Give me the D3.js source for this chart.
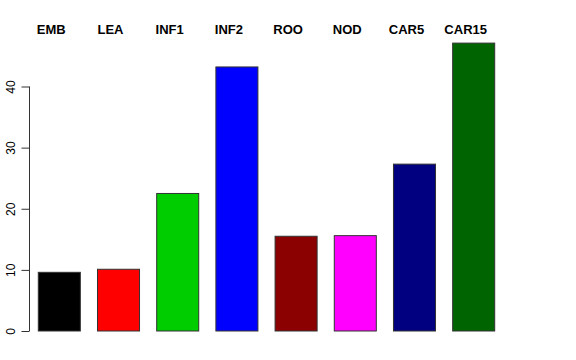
<!DOCTYPE html>
<html>
<head>
<meta charset="utf-8">
<script src="https://cdn.jsdelivr.net/npm/d3@7"></script>
<style>
  body { margin: 0; background: #fff; }
  svg { display: block; font-family: "Liberation Sans", Arial, sans-serif; }
</style>
</head>
<body>
<div id="chart"></div>
<script>
// chart data
const categories = ["EMB", "LEA", "INF1", "INF2", "ROO", "NOD", "CAR5", "CAR15"];
const values = [9.6, 10.1, 22.5, 43.2, 15.5, 15.6, 27.3, 47.1];
const barColours = ["#000000", "#ff0000", "#00cd00", "#0000ff", "#8b0000", "#ff00ff", "#000080", "#006400"];
const yTicks = [0, 10, 20, 30, 40];

const W = 576, H = 360;

const svg = d3.select("#chart")
  .append("svg")
    .attr("width", W)
    .attr("height", H);

// scales
const x = d3.scaleBand()
  .domain(categories)
  .range([38.3, 494.7])
  .paddingInner(0.29)
  .paddingOuter(0);

const y = d3.scaleLinear()
  .domain([0, 40])
  .range([331, 86.5]);

// bars
svg.append("g")
  .selectAll("rect")
  .data(categories)
  .enter()
  .append("rect")
    .attr("x", d => x(d))
    .attr("y", (d, i) => y(values[i]))
    .attr("width", x.bandwidth())
    .attr("height", (d, i) => y(0) - y(values[i]))
    .attr("fill", (d, i) => barColours[i])
    .attr("stroke", "#333")
    .attr("stroke-width", 1);

// left axis, R style
const yAxis = svg.append("g")
  .attr("transform", "translate(29.5,0)")
  .call(d3.axisLeft(y).tickValues(yTicks).tickSize(8).tickPadding(0).tickFormat(d3.format("d")));

yAxis.select("path.domain")
  .attr("d", `M0,${y(0)}V${y(40)}`)
  .attr("stroke", "#333");
yAxis.selectAll(".tick line").attr("stroke", "#333");
yAxis.selectAll(".tick text")
  .attr("x", 0)
  .attr("dy", 0)
  .attr("transform", "translate(-15,0) rotate(-90)")
  .attr("text-anchor", "middle")
  .style("font-size", "12px")
  .style("font-family", "Liberation Sans, Arial, sans-serif")
  .attr("fill", "#000");

// category labels along the top
svg.append("g")
  .selectAll("text")
  .data(categories)
  .enter()
  .append("text")
    .attr("x", d => x(d) + x.bandwidth() / 2 - 8)
    .attr("y", 34)
    .attr("text-anchor", "middle")
    .style("font-size", "13px")
    .style("font-weight", "bold")
    .text(d => d);
</script>
</body>
</html>
